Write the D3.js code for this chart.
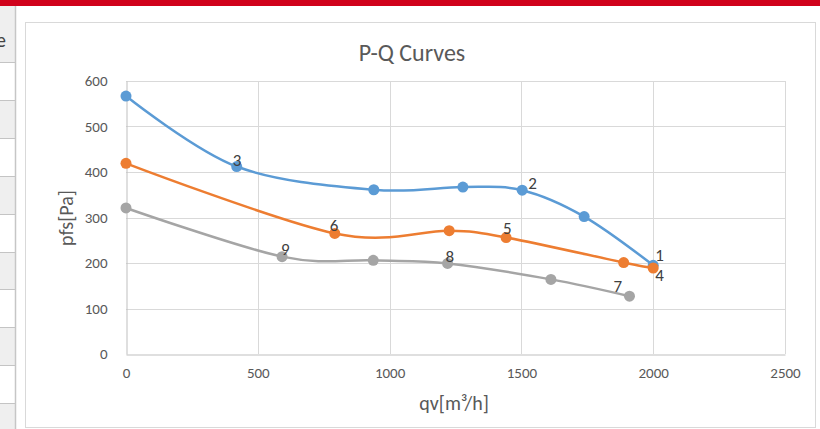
<!DOCTYPE html>
<html>
<head>
<meta charset="utf-8">
<script src="https://cdn.jsdelivr.net/npm/d3@7"></script>
<style>
  body { margin: 0; background: #fff; }
  text { font-family: "Carlito", "Liberation Sans Narrow", "DejaVu Sans Condensed", sans-serif; }
</style>
</head>
<body>
<script>
// P-Q curve data (flow qv in m3/h, static pressure pfs in Pa)
var blueQ = [0, 420, 940, 1278, 1503, 1738, 2000];
var blueP = [567, 412, 361, 367, 360, 302, 195];
var blueLabels = [null, "3", null, null, "2", null, "1"];

var orangeQ = [0, 792, 1226, 1442, 1888, 2000];
var orangeP = [419, 265, 271, 256, 201, 189];
var orangeLabels = [null, "6", null, "5", null, "4"];

var greyQ = [0, 592, 938, 1220, 1612, 1910];
var greyP = [321, 214, 206, 199, 164, 127];
var greyLabels = [null, "9", null, "8", null, "7"];

var xTicks = [0, 500, 1000, 1500, 2000, 2500];
var yTicks = [0, 100, 200, 300, 400, 500, 600];

var chartTitle = "P-Q Curves";
var xTitle = "qv[m³/h]";
var yTitle = "pfs[Pa]";

var width = 820, height = 429;
var plot = { left: 126, right: 785, top: 81, bottom: 354 };
var fontStack = '"Carlito", "Liberation Sans Narrow", "DejaVu Sans Condensed", sans-serif';

var svg = d3.select("body").append("svg")
  .attr("width", width)
  .attr("height", height);

// spreadsheet background bits
svg.append("rect").attr("x", 0).attr("y", 0).attr("width", width).attr("height", 6).attr("fill", "#d0021b");
var rows = [6, 62, 100, 138, 176, 214, 252, 289, 327, 365, 403, 429];
for (var i = 0; i < rows.length - 1; i++) {
  svg.append("rect")
    .attr("x", 0).attr("y", rows[i]).attr("width", 15).attr("height", rows[i + 1] - rows[i])
    .attr("fill", i % 2 === 0 ? "#efefef" : "#ffffff");
  if (i > 0) {
    svg.append("line").attr("x1", 0).attr("x2", 15).attr("y1", rows[i] + 0.5).attr("y2", rows[i] + 0.5)
      .attr("stroke", "#c4c4c4");
  }
}
svg.append("line").attr("x1", 15.5).attr("x2", 15.5).attr("y1", 6).attr("y2", height)
  .attr("stroke", "#c6c6c6").attr("stroke-width", 1.5);
// cut-off cell text at the left edge, as in the screenshot
svg.append("text").attr("x", -4).attr("y", 47).attr("font-size", 20).attr("fill", "#444").text("e");

// chart box
svg.append("rect").attr("x", 25.5).attr("y", 22.5).attr("width", 790).attr("height", 405)
  .attr("fill", "#fff").attr("stroke", "#d9d9d9");

var x = d3.scaleLinear().domain([0, 2500]).range([plot.left, plot.right]);
var y = d3.scaleLinear().domain([0, 600]).range([plot.bottom, plot.top]);

// gridlines
svg.append("g").selectAll("line").data(xTicks.slice(1)).join("line")
  .attr("x1", function (d) { return Math.round(x(d)) + 0.5; })
  .attr("x2", function (d) { return Math.round(x(d)) + 0.5; })
  .attr("y1", plot.top).attr("y2", plot.bottom)
  .attr("stroke", "#d9d9d9");
svg.append("g").selectAll("line").data(yTicks.slice(1)).join("line")
  .attr("x1", plot.left).attr("x2", plot.right)
  .attr("y1", function (d) { return Math.round(y(d)) + 0.5; })
  .attr("y2", function (d) { return Math.round(y(d)) + 0.5; })
  .attr("stroke", "#d9d9d9");

// axes
var xAxis = svg.append("g")
  .attr("transform", "translate(0," + (plot.bottom + 0.5) + ")")
  .call(d3.axisBottom(x).tickValues(xTicks).tickFormat(d3.format("d")).tickSize(0).tickPadding(13));
var yAxis = svg.append("g")
  .attr("transform", "translate(" + (plot.left + 0.5) + ",0)")
  .call(d3.axisLeft(y).tickValues(yTicks).tickFormat(d3.format("d")).tickSize(0).tickPadding(19));
[xAxis, yAxis].forEach(function (a) {
  a.select(".domain").attr("stroke", "#bfbfbf");
  a.selectAll("text").attr("fill", "#595959").attr("font-size", 15)
    .style("font-family", fontStack);
});

// titles
svg.append("text").attr("x", 412).attr("y", 61).attr("text-anchor", "middle")
  .attr("font-size", 24).attr("fill", "#595959").text(chartTitle);
svg.append("text").attr("x", 454).attr("y", 410).attr("text-anchor", "middle")
  .attr("font-size", 20).attr("fill", "#595959").text(xTitle);
svg.append("text").attr("transform", "translate(73,218) rotate(-90)").attr("text-anchor", "middle")
  .attr("font-size", 20).attr("fill", "#595959").text(yTitle);

// series
var series = [
  { q: blueQ, p: blueP, labels: blueLabels, color: "#5b9bd5" },
  { q: orangeQ, p: orangeP, labels: orangeLabels, color: "#ed7d31" },
  { q: greyQ, p: greyP, labels: greyLabels, color: "#a5a5a5" }
];

// label offsets from the point, in px
var labelOffset = {
  "1": [2, -4], "2": [6, -1], "3": [-4, -1],
  "4": [2, 13], "5": [-3, -4], "6": [-5, -2],
  "7": [-16, -4], "8": [-2, -1], "9": [-1, -2]
};

var line = d3.line()
  .x(function (d) { return x(d.q); })
  .y(function (d) { return y(d.p); })
  .curve(d3.curveCatmullRom.alpha(0));

series.forEach(function (s) {
  var pts = s.q.map(function (q, i) { return { q: q, p: s.p[i], label: s.labels[i] }; });
  svg.append("path").datum(pts)
    .attr("fill", "none").attr("stroke", s.color).attr("stroke-width", 2.5)
    .attr("d", line);
  svg.append("g").selectAll("circle").data(pts).join("circle")
    .attr("cx", function (d) { return x(d.q); })
    .attr("cy", function (d) { return y(d.p); })
    .attr("r", 5.5).attr("fill", s.color);
});

series.forEach(function (s) {
  s.q.forEach(function (q, i) {
    var lab = s.labels[i];
    if (!lab) return;
    var off = labelOffset[lab];
    svg.append("text")
      .attr("x", x(q) + off[0]).attr("y", y(s.p[i]) + off[1])
      .attr("font-size", 17).attr("fill", "#404040")
      .text(lab);
  });
});
</script>
</body>
</html>
